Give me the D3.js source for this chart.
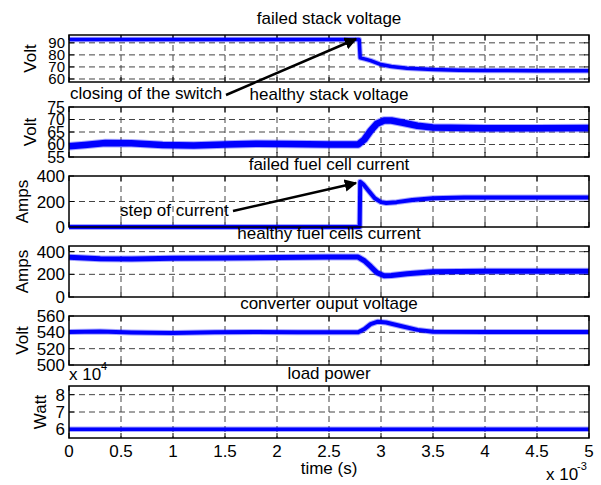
<!DOCTYPE html>
<html>
<head>
<meta charset="UTF-8">
<title>Fuel cell stack fault</title>
<script src="https://d3js.org/d3.v7.min.js"></script>
<style>
body { margin: 0; background: #fff; }
svg text { font-family: Arial, "Liberation Sans", sans-serif; font-size: 17px; fill: #000; }
</style>
</head>
<body>
<svg width="601" height="485"></svg>
<script>
// time axis (ms, shown with x 10^-3)
var xTicks = [0, 0.5, 1, 1.5, 2, 2.5, 3, 3.5, 4, 4.5, 5];

// failed stack voltage
var tFailV = [0, 2.79, 2.80, 2.85, 2.9, 3.0, 3.1, 3.25, 3.5, 3.75, 4.0, 4.5, 5.0];
var failV = [92.8, 92.8, 77.5, 76.5, 75.2, 72.0, 70.4, 69.0, 67.8, 67.3, 67.0, 66.9, 66.9];

// healthy stack voltage
var tHealthyV = [0, 0.15, 0.35, 0.6, 0.9, 1.2, 1.5, 1.8, 2.1, 2.5, 2.78, 2.84, 2.9, 2.96, 3.03, 3.1, 3.2, 3.35, 3.5, 4.0, 4.5, 5.0];
var healthyV = [59.3, 59.8, 60.6, 60.5, 59.8, 59.6, 60.0, 60.3, 60.2, 60.0, 60.0, 62.0, 65.5, 68.3, 69.6, 69.6, 68.8, 67.5, 66.8, 66.5, 66.5, 66.6];

// failed fuel cell current
var tFailI = [0, 2.795, 2.80, 2.83, 2.88, 2.94, 3.0, 3.05, 3.15, 3.3, 3.5, 3.8, 4.2, 5.0];
var failI = [0, 0, 355, 335, 285, 225, 195, 188, 195, 212, 226, 232, 232, 232];

// healthy fuel cells current
var tHealthyI = [0, 0.3, 0.6, 1.0, 1.5, 2.0, 2.5, 2.78, 2.84, 2.9, 2.96, 3.03, 3.1, 3.25, 3.5, 4.0, 4.5, 5.0];
var healthyI = [350, 338, 335, 342, 345, 348, 352, 352, 320, 270, 215, 188, 190, 205, 222, 228, 228, 228];

// converter output voltage
var tConv = [0, 0.3, 0.6, 1.0, 1.4, 1.8, 2.2, 2.6, 2.78, 2.84, 2.9, 2.97, 3.05, 3.2, 3.35, 3.5, 4.0, 5.0];
var conv = [540.5, 541.0, 539.8, 539.2, 540.0, 540.5, 540.0, 540.0, 540.0, 544, 550, 553, 552, 547.5, 543, 540.8, 540.3, 540.3];

// load power (x 10^4 W)
var tLoad = [0, 5];
var load = [6, 6];

var svg = d3.select("svg");
var x = d3.scaleLinear().domain([0, 5]).range([69, 589]);

// one entry per subplot
var panels = [
  {top: 35, bottom: 82, dom: [57.5, 96.5], ticks: [60, 70, 80, 90], grid: [60, 70, 80, 90], fs: 15,
   t: tFailV, v: failV, w: 3.5, title: "failed stack voltage", ty: 24, ylab: "Volt", lx: 36},
  {top: 107, bottom: 157, dom: [55, 75], ticks: [55, 60, 65, 70, 75], grid: [60, 65, 70], fs: 16,
   t: tHealthyV, v: healthyV, w: 6.5, title: "healthy stack voltage", ty: 100, ylab: "Volt", lx: 36},
  {top: 176, bottom: 227, dom: [0, 400], ticks: [0, 200, 400], grid: [200], fs: 17,
   t: tFailI, v: failI, w: 4, title: "failed fuel cell current", ty: 170, ylab: "Amps", lx: 28},
  {top: 246, bottom: 297, dom: [0, 450], ticks: [0, 200, 400], grid: [200, 400], fs: 17,
   t: tHealthyI, v: healthyI, w: 5, title: "healthy fuel cells current", ty: 239, ylab: "Amps", lx: 28},
  {top: 316, bottom: 365, dom: [500, 560], ticks: [500, 520, 540, 560], grid: [520, 540], fs: 17,
   t: tConv, v: conv, w: 4, title: "converter ouput voltage", ty: 309, ylab: "Volt", lx: 28},
  {top: 386, bottom: 438, dom: [5.5, 8.5], ticks: [6, 7, 8], grid: [6, 7, 8], fs: 17,
   t: tLoad, v: load, w: 3.5, title: "load power", ty: 379, ylab: "Watt", lx: 46}
];

panels.forEach(function(p, i) {
  var y = d3.scaleLinear().domain(p.dom).range([p.bottom, p.top]);
  var g = svg.append("g");

  // grid
  g.selectAll(".vg").data(xTicks.slice(1, -1)).enter().append("line")
    .attr("x1", function(d) { return x(d); }).attr("x2", function(d) { return x(d); })
    .attr("y1", p.top).attr("y2", p.bottom)
    .attr("stroke", "#444").attr("stroke-width", 1).attr("stroke-dasharray", "6,4");
  g.selectAll(".hg").data(p.grid).enter().append("line")
    .attr("x1", x(0)).attr("x2", x(5))
    .attr("y1", function(d) { return y(d); }).attr("y2", function(d) { return y(d); })
    .attr("stroke", "#444").attr("stroke-width", 1).attr("stroke-dasharray", "6,4");

  // inside ticks on all four sides
  xTicks.forEach(function(d) {
    g.append("line").attr("x1", x(d)).attr("x2", x(d)).attr("y1", p.bottom).attr("y2", p.bottom - 5).attr("stroke", "#000");
    g.append("line").attr("x1", x(d)).attr("x2", x(d)).attr("y1", p.top).attr("y2", p.top + 5).attr("stroke", "#000");
  });
  p.ticks.forEach(function(d) {
    g.append("line").attr("x1", x(0)).attr("x2", x(0) + 5).attr("y1", y(d)).attr("y2", y(d)).attr("stroke", "#000");
    g.append("line").attr("x1", x(5)).attr("x2", x(5) - 5).attr("y1", y(d)).attr("y2", y(d)).attr("stroke", "#000");
  });

  // data
  var pts = p.t.map(function(t, k) { return [t, p.v[k]]; });
  var line = d3.line().x(function(d) { return x(d[0]); }).y(function(d) { return y(d[1]); });
  g.append("path").attr("d", line(pts)).attr("fill", "none")
    .attr("stroke", "#0000ff").attr("stroke-opacity", 0.35).attr("stroke-width", p.w + 2)
    .attr("stroke-linejoin", "round");
  g.append("path").attr("d", line(pts)).attr("fill", "none")
    .attr("stroke", "#0000ff").attr("stroke-width", p.w).attr("stroke-linejoin", "round");

  // frame
  g.append("rect").attr("x", x(0)).attr("y", p.top).attr("width", x(5) - x(0)).attr("height", p.bottom - p.top)
    .attr("fill", "none").attr("stroke", "#000").attr("stroke-width", 1.5);

  // y tick labels
  g.selectAll(".yl").data(p.ticks).enter().append("text")
    .attr("x", 65).attr("y", function(d) { return y(d) + p.fs * 0.36; })
    .style("font-size", p.fs + "px")
    .attr("text-anchor", "end").text(function(d) { return d; });

  g.append("text").attr("x", 329).attr("y", p.ty).attr("text-anchor", "middle").text(p.title);

  g.append("text").attr("transform", "translate(" + p.lx + "," + (p.top + p.bottom) / 2 + ") rotate(-90)")
    .attr("text-anchor", "middle").text(p.ylab);
});

// x tick labels on bottom panel
svg.selectAll(".xl").data(xTicks).enter().append("text")
  .attr("x", function(d) { return x(d); }).attr("y", 457)
  .attr("text-anchor", "middle").text(function(d) { return d; });

svg.append("text").attr("x", 329).attr("y", 474).attr("text-anchor", "middle").text("time (s)");

// exponent labels
svg.append("text").attr("x", 546).attr("y", 480).text("x 10");
svg.append("text").attr("x", 577).attr("y", 470).style("font-size", "11px").text("-3");
svg.append("text").attr("x", 69).attr("y", 380).text("x 10");
svg.append("text").attr("x", 101).attr("y", 370).style("font-size", "11px").text("4");

// annotations
svg.append("defs").append("marker").attr("id", "head")
  .attr("viewBox", "0 0 10 10").attr("refX", 9).attr("refY", 5)
  .attr("markerWidth", 5).attr("markerHeight", 5).attr("orient", "auto")
  .append("path").attr("d", "M0,0 L10,5 L0,10 z").attr("fill", "#000");

svg.append("text").attr("x", 70).attr("y", 99).text("closing of the switch");
svg.append("line").attr("x1", 226).attr("y1", 95).attr("x2", 356).attr("y2", 39)
  .attr("stroke", "#000").attr("stroke-width", 2.5).attr("marker-end", "url(#head)");

svg.append("text").attr("x", 120).attr("y", 216).text("step of current");
svg.append("line").attr("x1", 233).attr("y1", 211).attr("x2", 356).attr("y2", 183)
  .attr("stroke", "#000").attr("stroke-width", 2.5).attr("marker-end", "url(#head)");
</script>
</body>
</html>
